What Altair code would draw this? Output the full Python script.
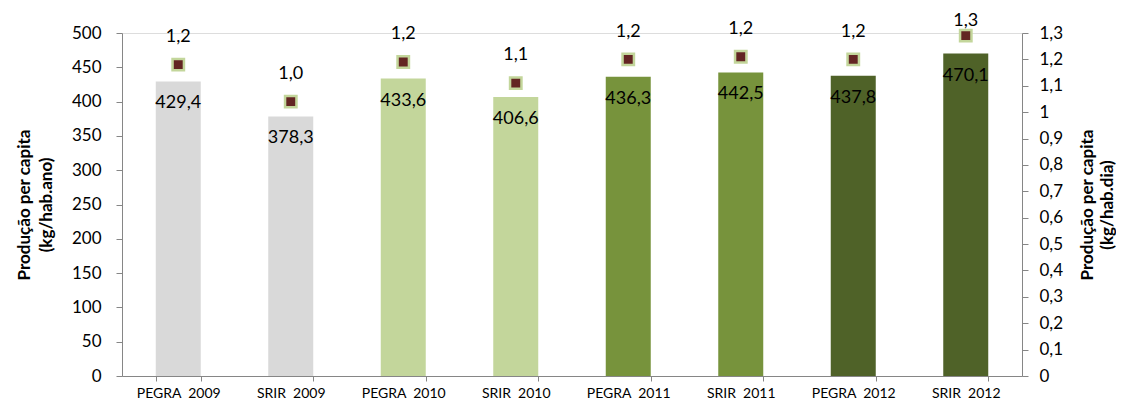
import altair as alt
import pandas as pd

categories = ["PEGRA\u00a0\u00a02009", "SRIR\u00a0\u00a02009", "PEGRA\u00a0\u00a02010", "SRIR\u00a0\u00a02010",
              "PEGRA\u00a0\u00a02011", "SRIR\u00a0\u00a02011", "PEGRA\u00a0\u00a02012", "SRIR\u00a0\u00a02012"]
kg_ano = [429.4, 378.3, 433.6, 406.6, 436.3, 442.5, 437.8, 470.1]
kg_dia = [1.18, 1.04, 1.19, 1.11, 1.20, 1.21, 1.20, 1.29]
kg_dia_labels = ["1,2", "1,0", "1,2", "1,1", "1,2", "1,2", "1,2", "1,3"]
bar_colors = ["#D9D9D9", "#D9D9D9", "#C3D69B", "#C3D69B",
              "#77933C", "#77933C", "#4F6228", "#4F6228"]
left_ticks = [0, 50, 100, 150, 200, 250, 300, 350, 400, 450, 500]
right_ticks = [0, 0.1, 0.2, 0.3, 0.4, 0.5, 0.6, 0.7, 0.8, 0.9, 1.0, 1.1, 1.2, 1.3]

df = pd.DataFrame({
    "cat": categories,
    "ano": kg_ano,
    "ano_label": [f"{v:.1f}".replace(".", ",") for v in kg_ano],
    "dia": kg_dia,
    "dia_label": kg_dia_labels,
})

FONT = "Lato"
GRAY = "#868686"

x = alt.X("cat:N", sort=categories, title=None,
          scale=alt.Scale(paddingInner=0.6, paddingOuter=0.3),
          axis=alt.Axis(labelAngle=0, labelFontSize=14, labelFont=FONT,
                        labelColor="#000000", tickBand="extent", tickSize=5,
                        tickColor=GRAY, domainColor=GRAY, labelPadding=5,
                        grid=False))

y_left = alt.Y("ano:Q",
               scale=alt.Scale(domain=[0, 500], nice=False),
               axis=alt.Axis(values=left_ticks, title=["Produção per capita", "(kg/hab.ano)"],
                             titleFont=FONT, titleFontSize=17, titleFontWeight="bold",
                             titleColor="#000000", titlePadding=16, titleLineHeight=22,
                             labelFont=FONT, labelFontSize=17, labelColor="#000000",
                             tickColor=GRAY, domainColor=GRAY, tickSize=6,
                             labelPadding=15, grid=False))

right_scale = alt.Scale(domain=[0, 1.3], nice=False)
right_axis = alt.Axis(orient="right", values=right_ticks,
                      labelExpr="replace(format(datum.value, '.1~f'), '.', ',')",
                      title=["Produção per capita", "(kg/hab.dia)"],
                      titleAngle=270,
                      titleFont=FONT, titleFontSize=17, titleFontWeight="bold",
                      titleColor="#000000", titlePadding=14, titleLineHeight=20,
                      labelFont=FONT, labelFontSize=17, labelColor="#000000",
                      tickColor=GRAY, domainColor=GRAY, tickSize=6,
                      labelPadding=11, grid=False)

base = alt.Chart(df)

bars = base.mark_bar().encode(
    x=x, y=y_left,
    color=alt.Color("cat:N", sort=categories,
                    scale=alt.Scale(domain=categories, range=bar_colors), legend=None),
)
bar_text = base.mark_text(font=FONT, fontSize=18, baseline="middle", dy=22,
                          color="#000000").encode(x=x, y=y_left, text="ano_label:N")

left = alt.layer(bars, bar_text)

markers = base.mark_square(size=130, fill="#632523", stroke="#C3D69B",
                           strokeWidth=2.5, opacity=1).encode(
    x=x, y=alt.Y("dia:Q", scale=right_scale, axis=right_axis))
marker_text = base.transform_calculate(
    label_at="min(datum.dia + 0.105, 1.345)"
).mark_text(font=FONT, fontSize=18, baseline="middle", color="#000000").encode(
    x=x, y=alt.Y("label_at:Q", scale=right_scale, axis=right_axis), text="dia_label:N")
right = alt.layer(markers, marker_text)

chart = alt.layer(left, right).resolve_scale(y="independent").properties(
    width=900, height=343,
    autosize=alt.AutoSizeParams(type="none"),
    padding={"left": 114, "top": 25, "right": 94, "bottom": 25},
).configure_view(stroke=None).configure(background="white")

chart.save("out.html", embed_options={"renderer": "svg", "actions": False})
